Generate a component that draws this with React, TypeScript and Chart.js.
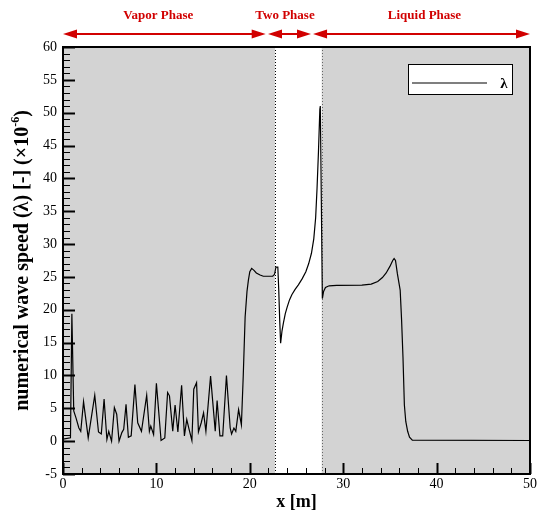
import React, { useEffect, useRef } from 'react';
import { Chart, registerables } from 'chart.js';

Chart.register(...registerables);

// ---- data ----
const xValues = [
  0.0, 0.8, 0.95, 1.15, 1.4, 1.7, 1.9, 2.2, 2.7, 3.4, 3.8, 4.1, 4.4, 4.7, 4.9, 5.2, 5.5, 5.75, 6.0, 6.3,
  6.5, 6.75, 7.0, 7.3, 7.7, 8.0, 8.4, 8.96, 9.25, 9.4, 9.7, 10.0, 10.5, 10.9, 11.2, 11.4, 11.75, 12.0, 12.3, 12.7,
  13.0, 13.25, 13.5, 13.8, 14.0, 14.3, 14.5, 14.8, 15.05, 15.3, 15.8, 16.3, 16.5, 16.8, 17.1, 17.5, 17.9, 18.05, 18.3, 18.5,
  18.8, 19.1, 19.3, 19.5, 19.7, 19.85, 20.0, 20.2, 20.45, 20.7, 21.1, 21.45, 22.45, 22.65, 22.8, 23.0,
  23.1, 23.2, 23.3, 23.45, 23.6, 23.8, 24.0, 24.25, 24.5, 24.85, 25.2, 25.6, 26.0, 26.3, 26.6, 26.85, 27.05, 27.2, 27.35, 27.5, 27.55,
  27.77, 27.9, 28.1, 28.5, 29.3, 32.0, 33.0, 33.7, 34.2, 34.6, 35.0, 35.3, 35.45, 35.6, 35.8, 36.1, 36.25, 36.4, 36.55, 36.7,
  36.9, 37.1, 37.4, 50.0,
];
const lambdaValues = [
  0.3, 0.5, 19.4, 4.6, 3.5, 2.0, 1.5, 6.0, 0.5, 7.0, 1.4, 1.1, 6.4, 0.25, 1.5, 0.0, 5.1, 4.1, 0.0, 1.3,
  1.8, 5.6, 0.6, 0.8, 8.6, 2.8, 1.5, 7.0, 1.5, 2.3, 1.0, 8.8, 0.1, 0.5, 7.4, 6.9, 1.5, 5.5, 1.4, 8.5,
  0.8, 3.3, 1.8, 0.1, 7.9, 8.9, 1.4, 2.8, 4.3, 1.5, 9.9, 1.5, 6.2, 0.8, 0.8, 10.0, 2.0, 1.1, 2.0, 1.5,
  4.8, 2.5, 10.0, 18.9, 22.8, 24.5, 25.8, 26.3, 26.0, 25.6, 25.3, 25.1, 25.1, 25.4, 26.5, 26.5,
  23.0, 18.5, 14.9, 16.8, 18.0, 19.4, 20.4, 21.5, 22.3, 23.1, 23.8, 24.7, 25.8, 27.0, 28.6, 30.8, 34.0, 38.5, 44.0, 50.5, 51.0,
  21.7, 22.8, 23.4, 23.65, 23.7, 23.75, 23.9, 24.3, 24.9, 25.6, 26.6, 27.5, 27.8, 27.5, 25.5, 23.0, 18.5, 12.8, 5.5, 3.0,
  1.5, 0.6, 0.15, 0.1,
];
const seriesLabel = 'λ';
const xTicks = [0, 10, 20, 30, 40, 50];
const yTicks = [-5, 0, 5, 10, 15, 20, 25, 30, 35, 40, 45, 50, 55, 60];
const xTitle = 'x [m]';
const yTitleMain = 'numerical wave speed (λ) [-] (×10';
const yTitleSup = '-6';
const yTitleEnd = ')';
const twoPhaseBounds = [22.7, 27.7];
const phaseNames = ['Vapor Phase', 'Two Phase', 'Liquid Phase'];
const phaseStart = [0, 21.95, 26.77];
const phaseEnd = [21.7, 26.55, 50];
const phaseLabelX = [10.2, 23.77, 38.7];

const SERIF = '"Liberation Serif", "Times New Roman", serif';
const RED = '#d10000';

const overlayPlugin = {
  id: 'overlay',
  beforeDatasetsDraw(chart: any) {
    const { ctx, chartArea: a, scales } = chart;
    const x = scales.x;
    ctx.save();
    const b0 = x.getPixelForValue(twoPhaseBounds[0]);
    const b1 = x.getPixelForValue(twoPhaseBounds[1]);
    ctx.fillStyle = '#d3d3d3';
    ctx.fillRect(a.left, a.top, b0 - a.left, a.bottom - a.top);
    ctx.fillRect(b1, a.top, a.right - b1, a.bottom - a.top);
    ctx.lineWidth = 1;
    ctx.setLineDash([1, 2]);
    ctx.strokeStyle = '#000';
    ctx.beginPath();
    ctx.moveTo(Math.round(b0) + 0.5, a.top);
    ctx.lineTo(Math.round(b0) + 0.5, a.bottom);
    ctx.stroke();
    ctx.strokeStyle = '#666';
    ctx.beginPath();
    ctx.moveTo(Math.round(b1) + 0.5, a.top);
    ctx.lineTo(Math.round(b1) + 0.5, a.bottom);
    ctx.stroke();
    ctx.restore();
  },
  afterDatasetsDraw(chart: any) {
    const { ctx, chartArea: a, scales } = chart;
    const x = scales.x;
    const y = scales.y;
    ctx.save();
    ctx.strokeStyle = '#000';
    // y ticks (major every 5, minor every 1)
    for (let v = -5; v <= 60; v += 1) {
      const major = v % 5 === 0;
      const py = Math.round(y.getPixelForValue(v)) + 0.5;
      ctx.lineWidth = major ? 2 : 1;
      ctx.beginPath();
      ctx.moveTo(a.left, py);
      ctx.lineTo(a.left + (major ? 12 : 7), py);
      ctx.stroke();
    }
    // x ticks (major every 10, minor every 2)
    for (let v = 0; v <= 50; v += 2) {
      const major = v % 10 === 0;
      const px = Math.round(x.getPixelForValue(v)) + 0.5;
      ctx.lineWidth = major ? 2 : 1;
      ctx.beginPath();
      ctx.moveTo(px, a.bottom);
      ctx.lineTo(px, a.bottom - (major ? 11 : 6));
      ctx.stroke();
    }
    // frame
    ctx.lineWidth = 2;
    ctx.strokeRect(a.left, a.top, a.right - a.left, a.bottom - a.top);
    // legend
    const lx = a.right - 122;
    const ly = a.top + 17;
    ctx.fillStyle = '#fff';
    ctx.fillRect(lx, ly, 104, 30);
    ctx.lineWidth = 1;
    ctx.strokeStyle = '#000';
    ctx.strokeRect(lx + 0.5, ly + 0.5, 104, 30);
    ctx.lineWidth = 1.2;
    ctx.beginPath();
    ctx.moveTo(lx + 4, ly + 19);
    ctx.lineTo(lx + 79, ly + 19);
    ctx.stroke();
    ctx.fillStyle = '#000';
    ctx.font = `bold 15px ${SERIF}`;
    ctx.textAlign = 'center';
    ctx.textBaseline = 'alphabetic';
    ctx.fillText(seriesLabel, lx + 96, ly + 24);
    ctx.restore();
  },
  afterDraw(chart: any) {
    const { ctx, chartArea: a, scales } = chart;
    const x = scales.x;
    ctx.save();
    // phase arrows
    ctx.strokeStyle = RED;
    ctx.fillStyle = RED;
    ctx.lineWidth = 2;
    const ay = 34;
    const hl = 14;
    const hh = 4.5;
    for (let i = 0; i < phaseNames.length; i++) {
      const x1 = x.getPixelForValue(phaseStart[i]);
      const x2 = x.getPixelForValue(phaseEnd[i]);
      ctx.beginPath();
      ctx.moveTo(x1 + hl - 1, ay);
      ctx.lineTo(x2 - hl + 1, ay);
      ctx.stroke();
      ctx.beginPath();
      ctx.moveTo(x1, ay);
      ctx.lineTo(x1 + hl, ay - hh);
      ctx.lineTo(x1 + hl, ay + hh);
      ctx.closePath();
      ctx.fill();
      ctx.beginPath();
      ctx.moveTo(x2, ay);
      ctx.lineTo(x2 - hl, ay - hh);
      ctx.lineTo(x2 - hl, ay + hh);
      ctx.closePath();
      ctx.fill();
      ctx.font = `bold 13px ${SERIF}`;
      ctx.textAlign = 'center';
      ctx.textBaseline = 'middle';
      ctx.fillText(phaseNames[i], x.getPixelForValue(phaseLabelX[i]), 16);
    }
    // y title with superscript exponent
    ctx.fillStyle = '#000';
    ctx.translate(28, (a.top + a.bottom) / 2);
    ctx.rotate(-Math.PI / 2);
    const mainFont = `bold 20px ${SERIF}`;
    const supFont = `bold 12px ${SERIF}`;
    ctx.font = mainFont;
    const w1 = ctx.measureText(yTitleMain).width;
    const w3 = ctx.measureText(yTitleEnd).width;
    ctx.font = supFont;
    const w2 = ctx.measureText(yTitleSup).width;
    const total = w1 + w2 + w3;
    let sx = -total / 2;
    ctx.textAlign = 'left';
    ctx.textBaseline = 'alphabetic';
    ctx.font = mainFont;
    ctx.fillText(yTitleMain, sx, 0);
    sx += w1;
    ctx.font = supFont;
    ctx.fillText(yTitleSup, sx, -9);
    sx += w2;
    ctx.font = mainFont;
    ctx.fillText(yTitleEnd, sx, 0);
    ctx.restore();
  },
};

export default function App() {
  const canvasRef = useRef<HTMLCanvasElement | null>(null);

  useEffect(() => {
    document.body.style.margin = '0';
    const canvas = canvasRef.current;
    if (!canvas) return;
    const chart = new Chart(canvas, {
      type: 'line',
      data: {
        datasets: [
          {
            label: seriesLabel,
            data: xValues.map((xv, i) => ({ x: xv, y: lambdaValues[i] })),
            borderColor: '#000',
            borderWidth: 1.2,
            pointRadius: 0,
            tension: 0,
            fill: false,
          },
        ],
      },
      options: {
        animation: false,
        responsive: false,
        devicePixelRatio: 1,
        layout: { padding: { left: 0, top: 47, right: 9, bottom: 0 } },
        plugins: {
          legend: { display: false },
          tooltip: { enabled: false },
        },
        scales: {
          x: {
            type: 'linear',
            min: 0,
            max: 50,
            grid: { display: false, drawTicks: false },
            border: { display: false },
            afterBuildTicks: (s: any) => {
              s.ticks = xTicks.map((v) => ({ value: v }));
            },
            afterFit: (s: any) => {
              s.height = 39;
            },
            ticks: {
              color: '#000',
              padding: 2,
              maxRotation: 0,
              autoSkip: false,
              font: { family: SERIF, size: 14 },
            },
            title: {
              display: true,
              text: xTitle,
              color: '#000',
              font: { family: SERIF, size: 18, weight: 'bold' },
              padding: { top: 0, bottom: 0 },
            },
          },
          y: {
            type: 'linear',
            min: -5,
            max: 60,
            grid: { display: false, drawTicks: false },
            border: { display: false },
            afterBuildTicks: (s: any) => {
              s.ticks = yTicks.map((v) => ({ value: v }));
            },
            afterFit: (s: any) => {
              s.width = 63;
            },
            ticks: {
              color: '#000',
              padding: 6,
              autoSkip: false,
              font: { family: SERIF, size: 14 },
            },
          },
        },
      },
      plugins: [overlayPlugin],
    });
    return () => chart.destroy();
  }, []);

  return (
    <div style={{ width: 539, height: 513 }}>
      <canvas ref={canvasRef} width={539} height={513} style={{ display: 'block' }} />
    </div>
  );
}
